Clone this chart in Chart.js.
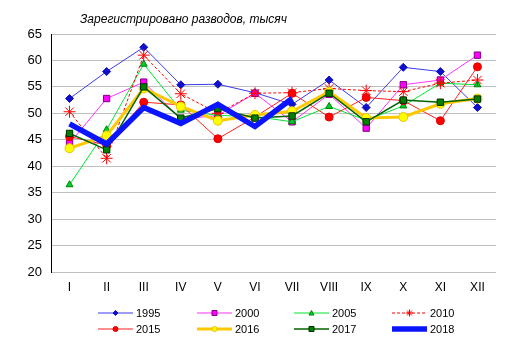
<!DOCTYPE html>
<html>
<head>
<meta charset="utf-8">
<script src="https://cdn.jsdelivr.net/npm/chart.js@4/dist/chart.umd.min.js"></script>
<style>
  html, body { margin: 0; padding: 0; background: #fff; }
  #wrap { width: 511px; height: 340px; }
</style>
</head>
<body>
<div id="wrap"><canvas id="divorceChart" width="511" height="340"></canvas></div>
<script>
const chartTitle = "Зарегистрировано разводов, тысяч";
const months = ["I", "II", "III", "IV", "V", "VI", "VII", "VIII", "IX", "X", "XI", "XII"];
const years = ["1995", "2000", "2005", "2010", "2015", "2016", "2017", "2018"];
const yTicks = [20, 25, 30, 35, 40, 45, 50, 55, 60, 65];

const v1995 = [52.8, 57.9, 62.5, 55.4, 55.5, 53.9, 51.7, 56.3, 51.1, 58.7, 57.9, 51.1];
const v2000 = [44.3, 52.8, 55.9, 48.9, 49.6, 53.8, 48.4, 53.6, 47.2, 55.4, 56.3, 61.0];
const v2005 = [36.5, 46.9, 59.3, 50.6, 49.6, 49.4, 48.4, 51.3, 48.7, 51.4, 55.7, 55.4];
const v2010 = [50.3, 41.5, 61.0, 53.7, 50.0, 53.8, 53.9, 54.7, 54.3, 54.1, 55.7, 56.3];
const v2015 = [45.6, 44.0, 52.1, 51.6, 45.2, 49.3, 53.8, 49.3, 53.0, 52.4, 48.6, 58.8];
const v2016 = [43.4, 45.8, 54.7, 51.3, 48.6, 49.7, 50.4, 54.1, 49.1, 49.3, 51.8, 52.8];
const v2017 = [46.2, 43.1, 55.0, 49.1, 50.9, 49.1, 49.5, 53.8, 48.4, 52.5, 52.1, 52.7];
const v2018 = [48.0, 44.2, 51.1, 48.1, 51.7, 47.5, 52.8, null, null, null, null, null];

const FONT = "'Liberation Sans', Arial, sans-serif";

function series(label, data, line, width, dash, style, radius, fill, edge, order) {
  return {
    label: label,
    data: data,
    borderColor: line,
    borderWidth: width,
    borderDash: dash,
    pointStyle: style,
    pointRadius: radius,
    pointBackgroundColor: fill,
    pointBorderColor: edge,
    pointBorderWidth: 1,
    tension: 0,
    fill: false,
    spanGaps: false,
    order: order
  };
}

const datasets = [
  series(years[0], v1995, "#3a3af0", 1, [], "rectRot", 4, "#1010c8", "#1010c8", 7),
  series(years[1], v2000, "#ff33ff", 1, [], "rect", 4.5, "#ff00ff", "#800080", 6),
  series(years[2], v2005, "#00e633", 1, [], "triangle", 4, "#00d030", "#008000", 5),
  series(years[3], v2010, "#ff0000", 1, [3, 2], "star", 6, "#ff0000", "#ff0000", 4),
  series(years[4], v2015, "#ff2020", 1, [], "circle", 4, "#ff0000", "#e00000", 3),
  series(years[5], v2016, "#ffc800", 3, [], "circle", 4.5, "#ffff00", "#e8c000", 2),
  series(years[6], v2017, "#006400", 1.5, [], "rect", 4.5, "#008000", "#003000", 1),
  series(years[7], v2018, "#0a14ff", 5.5, [], "circle", 0, "#0a14ff", "#0a14ff", 0)
];

function drawMarker(ctx, style, x, y, r, fill, edge) {
  ctx.save();
  ctx.setLineDash([]);
  ctx.fillStyle = fill;
  ctx.strokeStyle = edge;
  ctx.lineWidth = 1;
  ctx.beginPath();
  if (style === "rect") {
    ctx.rect(x - r, y - r, 2 * r, 2 * r);
    ctx.fill(); ctx.stroke();
  } else if (style === "rectRot") {
    ctx.moveTo(x, y - r); ctx.lineTo(x + r, y); ctx.lineTo(x, y + r); ctx.lineTo(x - r, y);
    ctx.closePath(); ctx.fill(); ctx.stroke();
  } else if (style === "triangle") {
    ctx.moveTo(x, y - r); ctx.lineTo(x + r, y + r * 0.8); ctx.lineTo(x - r, y + r * 0.8);
    ctx.closePath(); ctx.fill(); ctx.stroke();
  } else if (style === "star") {
    for (let a = 0; a < 4; a++) {
      const ang = a * Math.PI / 4;
      ctx.moveTo(x - Math.cos(ang) * r, y - Math.sin(ang) * r);
      ctx.lineTo(x + Math.cos(ang) * r, y + Math.sin(ang) * r);
    }
    ctx.stroke();
  } else {
    ctx.arc(x, y, r, 0, Math.PI * 2);
    ctx.fill(); ctx.stroke();
  }
  ctx.restore();
}

// title and two-row legend drawn by hand, like the original
const extras = {
  id: "extras",
  afterDraw(chart) {
    const ctx = chart.ctx;
    ctx.save();
    ctx.fillStyle = "#000";
    ctx.font = "italic 12px " + FONT;
    ctx.textBaseline = "middle";
    ctx.textAlign = "left";
    ctx.fillText(chartTitle, 80, 20);

    const colLine = [98, 197, 294, 392];
    const rowY = [313, 329];
    ctx.font = "11px " + FONT;
    chart.data.datasets.forEach((ds, i) => {
      const c = i % 4, r = Math.floor(i / 4);
      const x0 = colLine[c], x1 = x0 + 35, y = rowY[r];
      ctx.save();
      ctx.strokeStyle = ds.borderColor;
      ctx.lineWidth = ds.borderWidth;
      ctx.setLineDash(ds.borderDash || []);
      ctx.beginPath();
      ctx.moveTo(x0, y); ctx.lineTo(x1, y);
      ctx.stroke();
      ctx.restore();
      if (ds.pointRadius > 0) {
        drawMarker(ctx, ds.pointStyle, (x0 + x1) / 2, y, ds.pointStyle === "star" ? 3.5 : 2.5,
          ds.pointBackgroundColor, ds.pointBorderColor);
      }
      ctx.fillStyle = "#000";
      ctx.fillText(ds.label, x1 + 3, y + 0.5);
    });
    ctx.restore();
  }
};

new Chart(document.getElementById("divorceChart"), {
  type: "line",
  data: { labels: months, datasets: datasets },
  plugins: [extras],
  options: {
    responsive: false,
    animation: false,
    events: [],
    layout: { padding: { left: 0, right: 15, top: 34, bottom: 0 } },
    plugins: { legend: { display: false }, title: { display: false }, tooltip: { enabled: false } },
    scales: {
      x: {
        type: "category",
        offset: true,
        grid: { display: false, drawTicks: false },
        border: { display: false },
        ticks: { color: "#000", padding: 8, font: { family: FONT, size: 12 }, maxRotation: 0, autoSkip: false },
        afterFit(scale) { scale.height = 68; }
      },
      y: {
        min: 20,
        max: 65,
        afterBuildTicks(scale) { scale.ticks = yTicks.map(v => ({ value: v })); },
        grid: { color: "#c0c0c0", lineWidth: 1, drawTicks: false },
        border: { display: true, color: "#000", width: 1 },
        ticks: { color: "#000", padding: 9, font: { family: FONT, size: 13 } },
        afterFit(scale) { scale.width = 51; }
      }
    }
  }
});
</script>
</body>
</html>
